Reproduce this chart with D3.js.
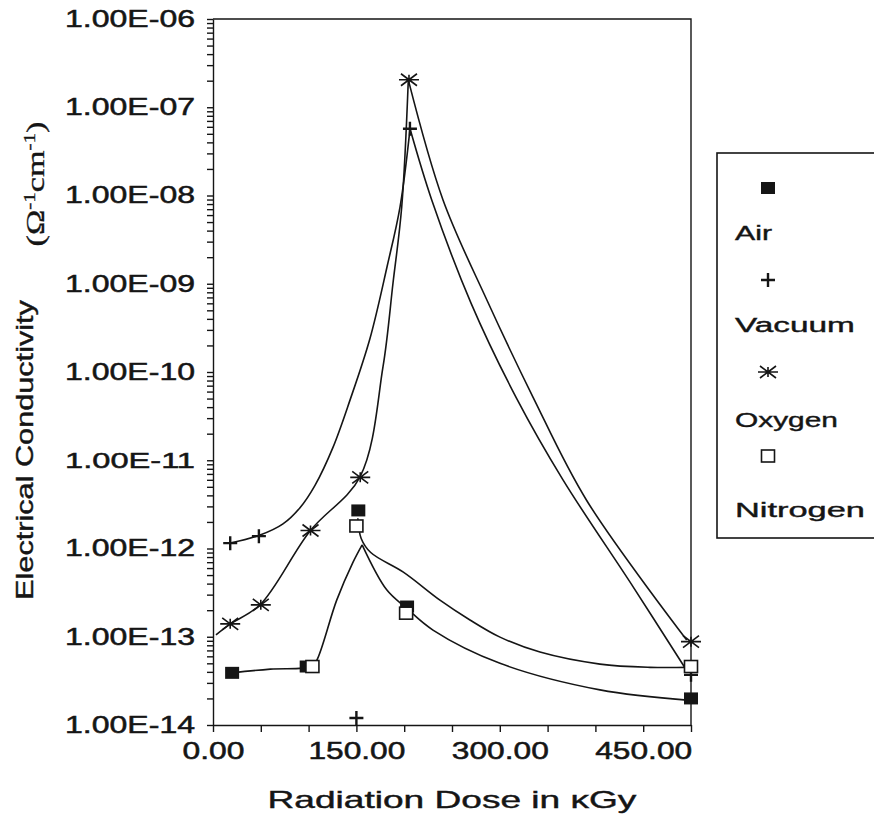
<!DOCTYPE html>
<html><head><meta charset="utf-8">
<script src="https://cdn.jsdelivr.net/npm/d3@7"></script>
<style>body{margin:0;background:#fff}svg{display:block}</style>
</head><body>
<svg id="chart" width="874" height="818"></svg>
<script>
// ---------- data ----------
const seriesNames = ["Air", "Vacuum", "Oxygen", "Nitrogen"];

// measured points [dose kGy, conductivity]
const airPoints      = [[20, 3.9e-14], [98, 4.6e-14], [152, 2.7e-12], [203, 2.2e-13], [500, 2.0e-14]];
const vacuumPoints   = [[18, 1.15e-12], [48, 1.38e-12], [150, 1.2e-14], [206, 5.7e-8], [500, 3.7e-14]];
const oxygenPoints   = [[18, 1.4e-13], [50, 2.3e-13], [102, 1.6e-12], [154, 6.4e-12], [205, 2.05e-7], [500, 8.8e-14]];
const nitrogenPoints = [[104, 4.6e-14], [150, 1.8e-12], [202, 1.85e-13], [500, 4.6e-14]];

// fitted curves (estimated from the drawn lines), one array per segment
const airFitRise = [[19.6, 3.9e-14], [60, 4.3e-14], [103, 4.6e-14], [108.5, 5.4e-14], [129.4, 2.6e-13], [146.5, 7e-13], [156, 1.1e-12]];
const airFitFall = [[156, 1.1e-12], [181.7, 3.4e-13], [202.6, 2.1e-13], [230.1, 1.19e-13], [300.2, 5.0e-14], [404.8, 2.5e-14], [498.9, 1.9e-14]];
const nitrogenFitFall = [[151.5, 2.2e-12], [155, 1.3e-12], [165, 9.0e-13], [199.1, 5.4e-13], [237.4, 2.6e-13], [268.8, 1.55e-13], [300.2, 9.9e-14], [342, 6.7e-14], [404.8, 4.9e-14], [457.1, 4.5e-14], [496.9, 4.5e-14]];
const vacuumFitRise = [[17.8, 1.15e-12], [49.2, 1.42e-12], [73.2, 1.9e-12], [91, 2.9e-12], [106.7, 5.2e-12], [125.5, 1.4e-11], [143.3, 4.8e-11], [164.2, 2.4e-10], [182, 1.55e-9], [195.6, 7.4e-9], [206.1, 5.7e-8]];
const vacuumFitFall = [[206.1, 5.7e-8], [228.8, 8.9e-9], [270, 6.0e-10], [317.7, 5.0e-11], [366.1, 6.0e-12], [439.3, 3.7e-13], [494, 4.4e-14]];
const oxygenFitRise = [[3.1, 1.05e-13], [17.8, 1.39e-13], [49.2, 2.3e-13], [101.5, 1.58e-12], [153.8, 6.5e-12], [177.8, 1.14e-10], [188.3, 1.02e-9], [197.4, 7.4e-9], [204.3, 2.04e-7]];
const oxygenFitFall = [[204.3, 2.04e-7], [240.6, 8.9e-9], [286.6, 6.5e-10], [334.7, 5.2e-11], [390.9, 3.5e-12], [495.5, 9.2e-14]];

// axis ticks
const xTickValues = [0, 50, 100, 150, 200, 250, 300, 350, 400, 450, 500];
const xLabelValues = [0, 150, 300, 450];
const xTickLabels = ["0.00", "150.00", "300.00", "450.00"];
const yDecades = [1e-14, 1e-13, 1e-12, 1e-11, 1e-10, 1e-9, 1e-8, 1e-7, 1e-6];
const yTickLabels = ["1.00E-14", "1.00E-13", "1.00E-12", "1.00E-11", "1.00E-10", "1.00E-09", "1.00E-08", "1.00E-07", "1.00E-06"];
const xTitle = "Radiation Dose in \u03baGy";
const yTitle = "Electrical Conductivity";

// ---------- drawing ----------
const svg = d3.select("#chart");
const FONT = "'Liberation Sans', Arial, Helvetica, sans-serif";
const INK = "#151515";
const x = d3.scaleLinear().domain([0, 500]).range([213, 691]);
const y = d3.scaleLog().domain([1e-14, 1e-6]).range([725, 19]);

// widen a text horizontally (about its anchor) so that it spans `width` px
function widen(node, width, base) {
  const w = node.getComputedTextLength();
  if (!w) return;
  const sx = width / w;
  const ax = +(node.getAttribute("x") || 0);
  const pre = base ? base + " " : "";
  node.setAttribute("transform", `${pre}translate(${ax},0) scale(${sx},1) translate(${-ax},0)`);
}
function heavy(sel, sw) {
  sel.attr("fill", INK).attr("stroke", INK).attr("stroke-width", sw).attr("paint-order", "stroke");
}

// minor+major y tick values
const yTickVals = [];
yDecades.forEach((d, i) => {
  if (i < yDecades.length - 1) for (let m = 1; m <= 9; m++) yTickVals.push(d * m);
  else yTickVals.push(d);
});

const yAxis = d3.axisLeft(y).tickValues(yTickVals).tickSize(6).tickSizeOuter(0).tickPadding(12)
  .tickFormat(v => {
    const i = yDecades.findIndex(d => Math.abs(v / d - 1) < 1e-6);
    return i >= 0 ? yTickLabels[i] : "";
  });
const gy = svg.append("g").attr("transform", "translate(213,0)").call(yAxis);
gy.selectAll("text").attr("font-family", FONT).attr("font-size", 23).call(heavy, 0.5)
  .each(function () { if (this.textContent) widen(this, 130); });
gy.selectAll("line, path").attr("stroke", INK).attr("stroke-width", 1.4);

const xAxis = d3.axisBottom(x).tickValues(xTickValues).tickSize(7).tickSizeOuter(0).tickPadding(11)
  .tickFormat(v => { const i = xLabelValues.indexOf(v); return i >= 0 ? xTickLabels[i] : ""; });
const gx = svg.append("g").attr("transform", "translate(0,725)").call(xAxis);
gx.selectAll("text").attr("font-family", FONT).attr("font-size", 23).call(heavy, 0.5)
  .each(function () { if (this.textContent) widen(this, this.textContent.length === 4 ? 62 : 97); });
gx.selectAll("line, path").attr("stroke", INK).attr("stroke-width", 1.4);

// frame (top and right)
svg.append("path")
  .attr("d", `M${x(0)},${y(1e-6)}H${x(500)}V${y(1e-14)}`)
  .attr("fill", "none").attr("stroke", INK).attr("stroke-width", 1.4);

// axis titles
const xt = svg.append("text").attr("x", 452).attr("y", 808).attr("text-anchor", "middle")
  .attr("font-family", FONT).attr("font-size", 23).call(heavy, 0.4).text(xTitle);
widen(xt.node(), 369);

const yt = svg.append("text").attr("text-anchor", "middle")
  .attr("font-family", FONT).attr("font-size", 23).call(heavy, 0.4).text(yTitle);
widen(yt.node(), 300, "translate(33,450) rotate(-90)");

const unit = svg.append("text").attr("text-anchor", "middle")
  .attr("font-family", "'Liberation Serif', 'Times New Roman', serif").attr("font-size", 26).call(heavy, 0.3);
unit.append("tspan").text("(\u03a9");
unit.append("tspan").attr("dy", -9).attr("font-size", 16).text("-1");
unit.append("tspan").attr("dy", 9).text("cm");
unit.append("tspan").attr("dy", -9).attr("font-size", 16).text("-1");
unit.append("tspan").attr("dy", 9).text(")");
widen(unit.node(), 125, "translate(44,184) rotate(-90)");

// curves
const line = d3.line().x(d => x(d[0])).y(d => y(d[1])).curve(d3.curveCatmullRom.alpha(0.5));
[airFitRise, airFitFall, nitrogenFitFall, vacuumFitRise, vacuumFitFall, oxygenFitRise, oxygenFitFall].forEach(seg => {
  svg.append("path").attr("d", line(seg)).attr("fill", "none").attr("stroke", INK).attr("stroke-width", 1.6);
});

// markers
function drawMarker(g, type) {
  if (type === "Air") {
    g.append("rect").attr("x", -7).attr("y", -6).attr("width", 14).attr("height", 12).attr("fill", INK);
  } else if (type === "Nitrogen") {
    g.append("rect").attr("x", -6.5).attr("y", -6).attr("width", 13).attr("height", 12)
      .attr("fill", "#fff").attr("stroke", INK).attr("stroke-width", 1.6);
  } else if (type === "Vacuum") {
    g.append("path").attr("d", "M-7,0H7M0,-7V7").attr("stroke", INK).attr("stroke-width", 2.4);
  } else if (type === "Oxygen") {
    g.append("path").attr("d", "M-10,0H10M-8,-6L8,6M-8,6L8,-6M0,-5V5").attr("stroke", INK).attr("stroke-width", 1.6);
  }
}
const pointSets = { Air: airPoints, Vacuum: vacuumPoints, Oxygen: oxygenPoints, Nitrogen: nitrogenPoints };
["Air", "Vacuum", "Oxygen", "Nitrogen"].forEach(name => {
  pointSets[name].forEach(p => {
    const g = svg.append("g").attr("transform", `translate(${x(p[0])},${y(p[1])})`);
    drawMarker(g, name);
  });
});

// legend
svg.append("rect").attr("x", 717).attr("y", 153).attr("width", 200).attr("height", 385)
  .attr("fill", "#fff").attr("stroke", INK).attr("stroke-width", 1.6);
const legendSymY = [188, 280, 372, 456];
const legendTextY = [240, 332, 427, 517];
const legendWidths = [37, 120, 103, 130];
seriesNames.forEach((name, i) => {
  const g = svg.append("g").attr("transform", `translate(768,${legendSymY[i]})`);
  drawMarker(g, name);
  const t = svg.append("text").attr("x", 735).attr("y", legendTextY[i]).attr("font-family", FONT)
    .attr("font-size", 21).call(heavy, 0.4).text(name);
  widen(t.node(), legendWidths[i]);
});
</script>
</body></html>
